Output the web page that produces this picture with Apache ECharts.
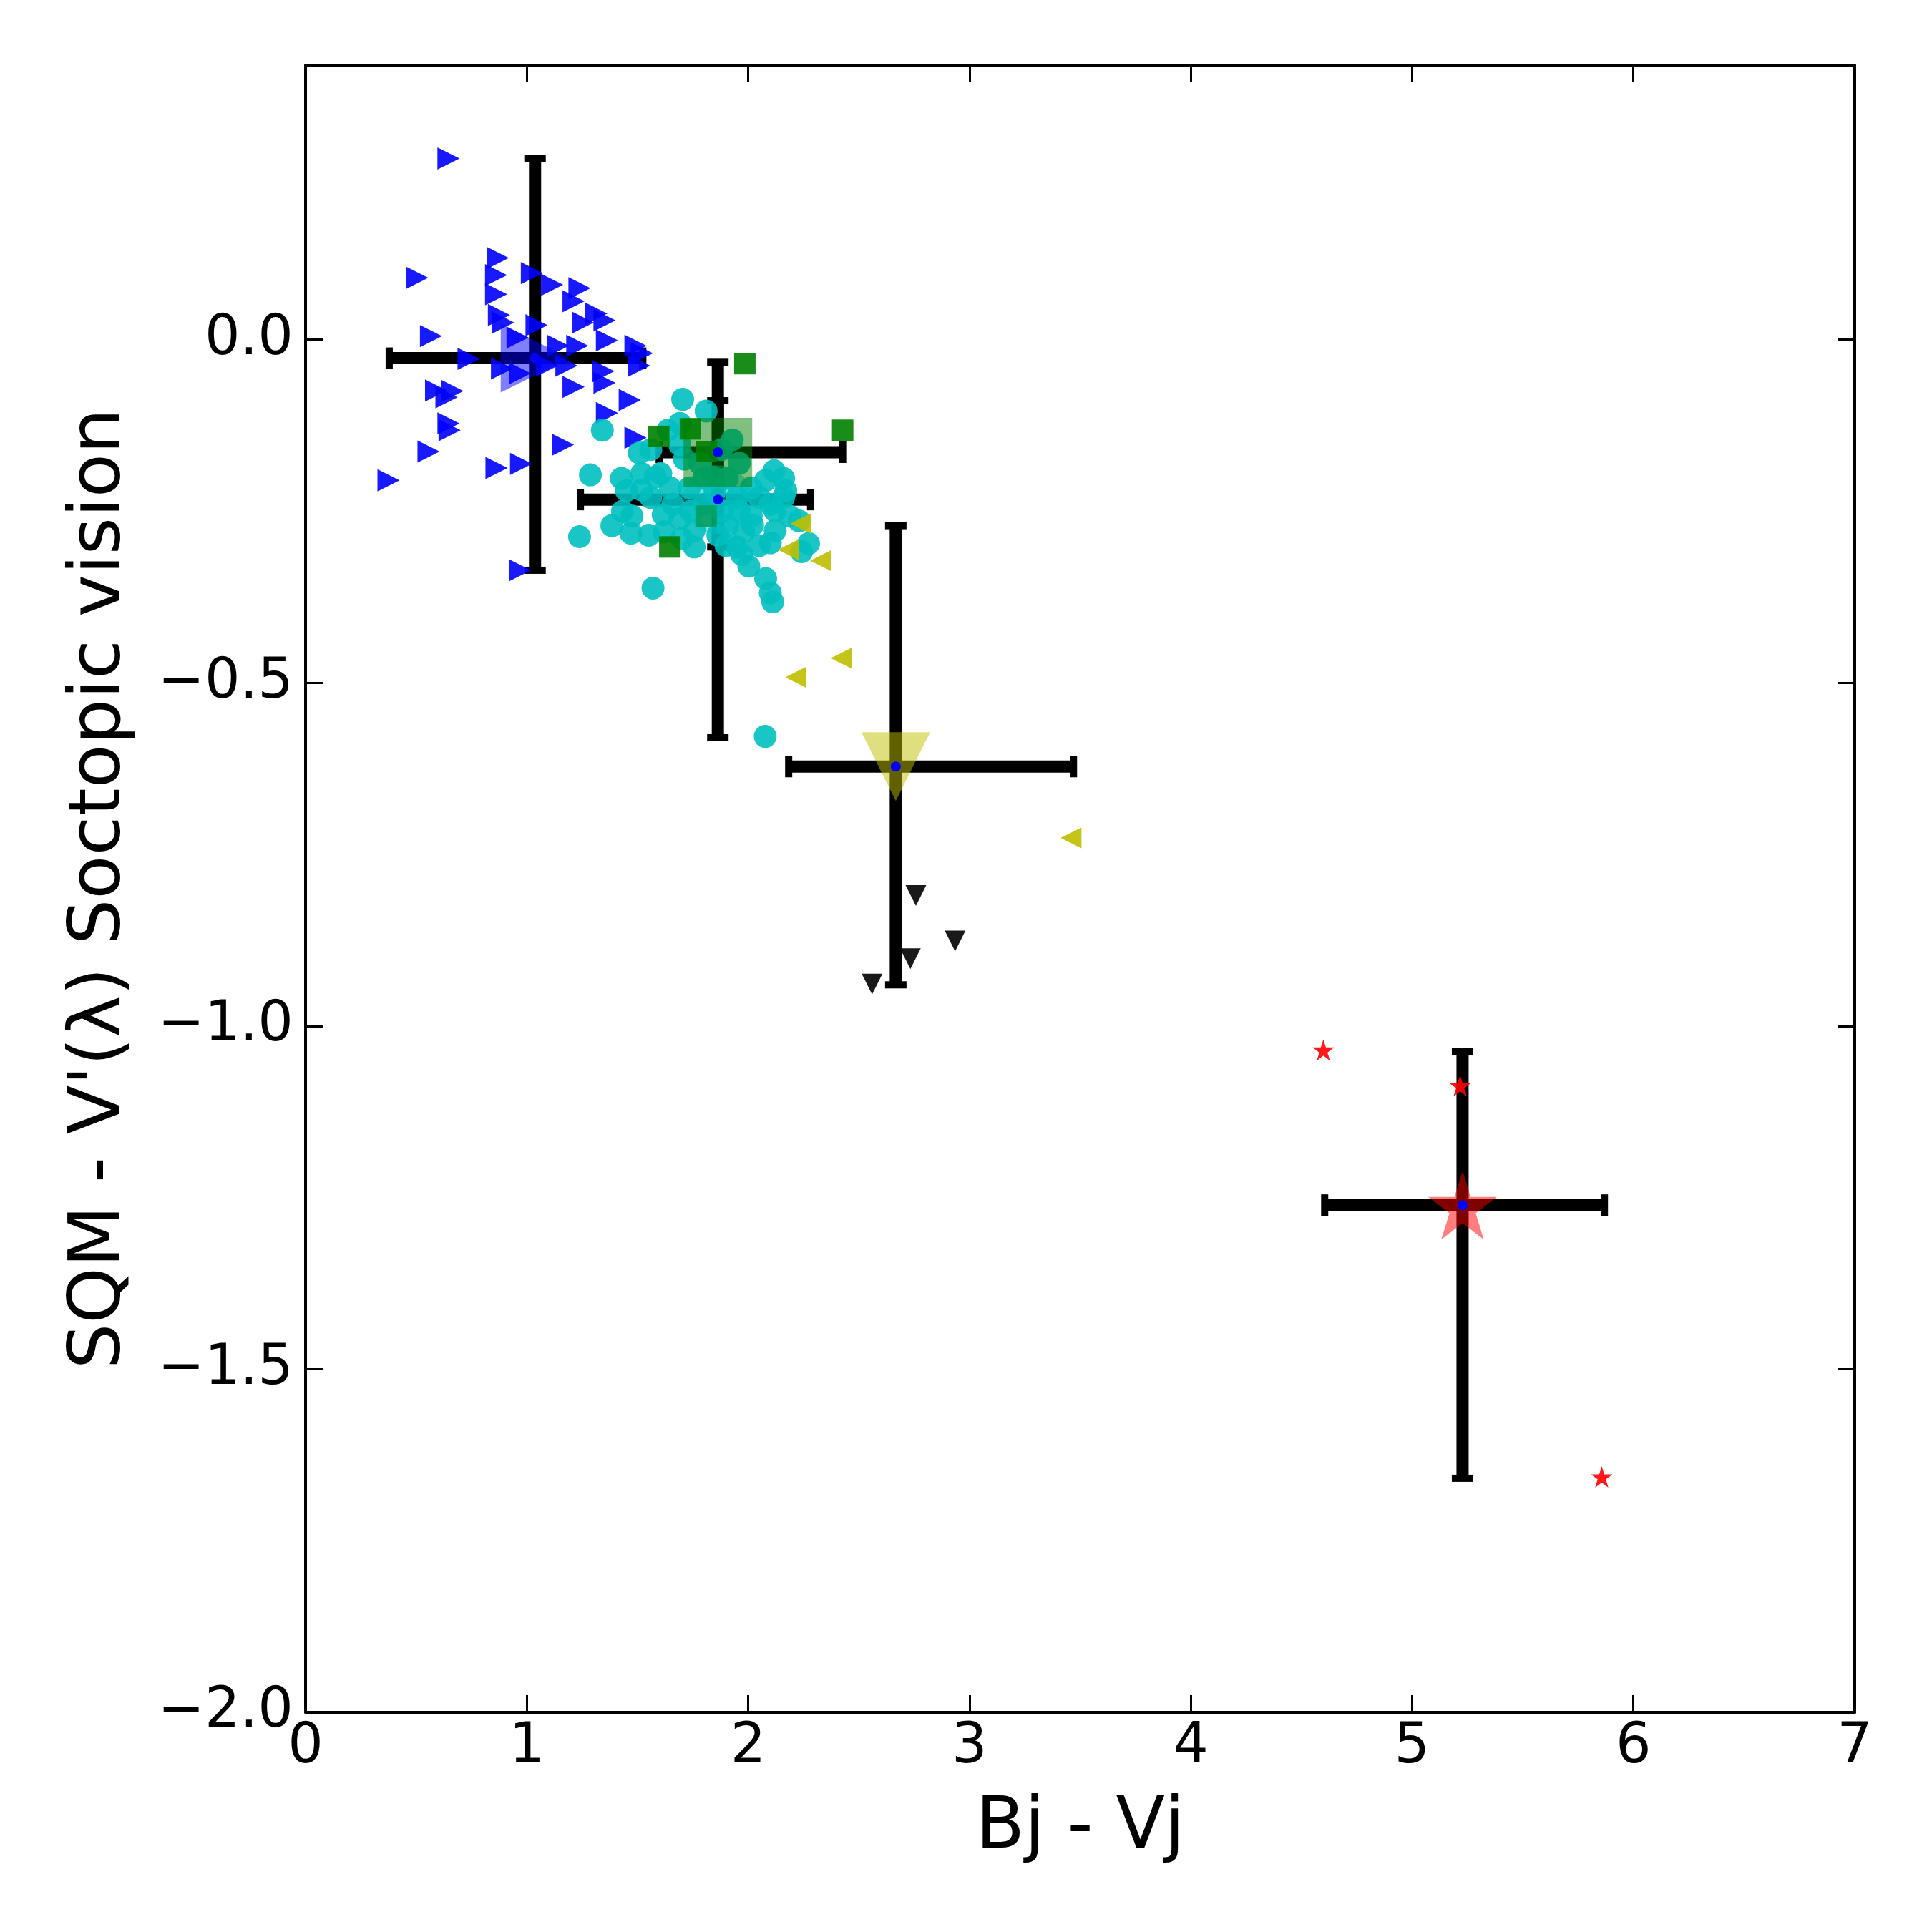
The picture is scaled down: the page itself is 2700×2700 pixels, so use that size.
<!DOCTYPE html>
<html><head><meta charset="utf-8">
<script src="https://cdn.jsdelivr.net/npm/echarts@6/dist/echarts.min.js"></script>
<style>html,body{margin:0;padding:0;background:#fff}#c{width:2700px;height:2700px}</style>
</head><body><div id="c"></div>
<script>
// ---------- data ----------
const xTickValues = [0, 1, 2, 3, 4, 5, 6, 7];
const xTickLabels = ['0', '1', '2', '3', '4', '5', '6', '7'];
const yTickValues = [-2.0, -1.5, -1.0, -0.5, 0.0];
const yTickLabels = ['\u22122.0', '\u22121.5', '\u22121.0', '\u22120.5', '0.0'];
const xLabel = 'Bj - Vj';
const yLabel = "SQM - V'(\u03bb) Soctopic vision";

const bluePts = [
  [0.646, 0.264], [0.505, 0.090], [0.869, 0.119], [0.861, 0.094], [0.861, 0.066],
  [0.874, 0.036], [0.893, 0.025], [1.023, 0.097], [1.114, 0.080], [1.238, 0.075],
  [1.211, 0.056], [1.253, 0.025], [1.314, 0.038], [1.351, 0.028], [1.362, -0.001],
  [1.491, -0.009], [1.508, -0.038], [1.346, -0.046], [1.351, -0.063], [1.211, -0.069],
  [1.179, -0.038], [1.141, -0.009], [1.228, -0.009], [1.044, 0.021], [0.958, 0.003],
  [0.737, -0.028], [0.888, -0.042], [0.969, -0.049], [1.091, -0.038], [0.567, 0.005],
  [0.590, -0.074], [0.664, -0.075], [0.637, -0.084], [0.646, -0.122], [0.651, -0.132],
  [0.556, -0.163], [1.465, -0.088], [1.362, -0.107], [1.491, -0.143], [1.163, -0.153],
  [0.375, -0.205], [0.863, -0.187], [0.974, -0.181], [0.969, -0.336], [1.520, -0.020]
];
const cyanPts = [
  [1.704, -0.087], [1.341, -0.132], [1.810, -0.104], [1.691, -0.122], [1.287, -0.197],
  [1.427, -0.202], [1.238, -0.287], [1.570, -0.362], [1.508, -0.165], [1.519, -0.195],
  [1.605, -0.195], [1.648, -0.216], [1.519, -0.219], [1.616, -0.255], [1.691, -0.261],
  [1.432, -0.250], [1.384, -0.271], [1.470, -0.282], [1.551, -0.285], [1.475, -0.257],
  [1.756, -0.302], [1.756, -0.278], [1.691, -0.153], [1.637, -0.132], [1.928, -0.146],
  [2.117, -0.191], [2.160, -0.202], [2.079, -0.205], [2.014, -0.216], [1.960, -0.250],
  [2.014, -0.257], [2.122, -0.250], [2.187, -0.257], [2.100, -0.296], [2.273, -0.297],
  [2.241, -0.309], [1.950, -0.302], [1.971, -0.313], [2.003, -0.330], [2.079, -0.348],
  [2.100, -0.369], [2.111, -0.382], [1.885, -0.250], [1.906, -0.271], [1.734, -0.216],
  [1.799, -0.202], [1.906, -0.202], [1.712, -0.174], [2.122, -0.278], [2.230, -0.264],
  [1.863, -0.285], [2.077, -0.578], [1.560, -0.160], [2.050, -0.230], [2.160, -0.230],
  [1.980, -0.280], [2.050, -0.300], [1.800, -0.240], [1.660, -0.240], [1.960, -0.180],
  [1.850, -0.220], [1.950, -0.230], [2.020, -0.270], [1.700, -0.290], [1.620, -0.280],
  [1.780, -0.180], [1.880, -0.160], [2.170, -0.220], [1.560, -0.230], [1.450, -0.220],
  [1.900, -0.300], [2.100, -0.240], [1.740, -0.250], [1.840, -0.200], [1.580, -0.200]
];
const greenPts = [
  [1.985, -0.035], [2.427, -0.132], [1.596, -0.141], [1.739, -0.130],
  [1.646, -0.302], [1.812, -0.163], [1.810, -0.257]
];
const yellowPts = [
  [2.237, -0.268], [2.181, -0.306], [2.327, -0.322], [2.420, -0.464], [2.214, -0.492], [3.459, -0.726]
];
const blackPts = [
  [2.758, -0.810], [2.935, -0.876], [2.733, -0.902], [2.560, -0.939]
];
const redPts = [
  [4.599, -1.035], [5.217, -1.087], [5.857, -1.657]
];

// group summaries (mean marker + min/max error bars)
const groupNames = ['blue', 'cyan', 'green', 'yellow', 'red'];
const meanX = [1.037, 1.863, 1.863, 2.667, 5.228];
const meanY = [-0.027, -0.233, -0.164, -0.622, -1.261];
const errXLo = [0.378, 1.242, 1.598, 2.183, 4.605];
const errXHi = [1.524, 2.282, 2.427, 3.470, 5.869];
const errYLo = [-0.336, -0.580, -0.302, -0.940, -1.659];
const errYHi = [0.264, -0.089, -0.033, -0.271, -1.037];

// ---------- styling ----------
function starPath() {
  const pts = [];
  for (let i = 0; i < 10; i++) {
    const r = i % 2 === 0 ? 1 : 0.381966;
    const a = -Math.PI / 2 + i * Math.PI / 5;
    pts.push((r * Math.cos(a)).toFixed(4) + ' ' + (r * Math.sin(a)).toFixed(4));
  }
  return 'path://M' + pts.join(' L') + ' Z';
}
const STAR = starPath();
const FONT = 'DejaVu Sans';
const groupStyle = {
  blue:   { color: '#0000ff', symbol: 'triangle', rotate: -90 },
  cyan:   { color: '#00bfbf', symbol: 'circle', rotate: 0 },
  green:  { color: '#008000', symbol: 'rect', rotate: 0 },
  yellow: { color: '#bfbf00', symbol: 'triangle', rotate: 180 },
  red:    { color: '#ff0000', symbol: STAR, rotate: 0 }
};

function pointSeries(data, color, symbol, rotate, size) {
  return {
    type: 'scatter', xAxisIndex: 0, yAxisIndex: 0,
    data: data, symbol: symbol, symbolRotate: rotate, symbolSize: size,
    itemStyle: { color: color, opacity: 0.9 },
    emphasis: { disabled: true }, silent: true
  };
}

const meanData = groupNames.map((g, i) => ({
  value: [meanX[i], meanY[i]],
  symbol: groupStyle[g].symbol,
  symbolRotate: groupStyle[g].rotate,
  itemStyle: { color: groupStyle[g].color, opacity: 0.5 }
}));
const errData = groupNames.map((g, i) => [meanX[i], meanY[i], errXLo[i], errXHi[i], errYLo[i], errYHi[i]]);

function renderErr(params, api) {
  const cx = api.value(0), cy = api.value(1);
  const xl = api.value(2), xh = api.value(3), yl = api.value(4), yh = api.value(5);
  const c = api.coord([cx, cy]);
  const a = api.coord([xl, cy]), b = api.coord([xh, cy]);
  const d = api.coord([cx, yl]), e = api.coord([cx, yh]);
  const lw = 17, cw = 10, half = 15;
  const bar = { stroke: '#000', lineWidth: lw };
  const cap = { stroke: '#000', lineWidth: cw };
  return {
    type: 'group',
    children: [
      { type: 'line', shape: { x1: a[0], y1: c[1], x2: b[0], y2: c[1] }, style: bar },
      { type: 'line', shape: { x1: c[0], y1: d[1], x2: c[0], y2: e[1] }, style: bar },
      { type: 'line', shape: { x1: a[0], y1: c[1] - half, x2: a[0], y2: c[1] + half }, style: cap },
      { type: 'line', shape: { x1: b[0], y1: c[1] - half, x2: b[0], y2: c[1] + half }, style: cap },
      { type: 'line', shape: { x1: c[0] - half, y1: d[1], x2: c[0] + half, y2: d[1] }, style: cap },
      { type: 'line', shape: { x1: c[0] - half, y1: e[1], x2: c[0] + half, y2: e[1] }, style: cap }
    ]
  };
}

function yFmt(v) {
  for (let i = 0; i < yTickValues.length; i++) {
    if (Math.abs(v - yTickValues[i]) < 1e-6) return yTickLabels[i];
  }
  return '';
}
function xFmt(v) {
  for (let i = 0; i < xTickValues.length; i++) {
    if (Math.abs(v - xTickValues[i]) < 1e-6) return xTickLabels[i];
  }
  return '';
}

const axisLineStyle = { show: true, onZero: false, lineStyle: { color: '#000', width: 4 } };
const tickStyle = { show: true, inside: true, length: 24, lineStyle: { color: '#000', width: 3 } };

const option = {
  animation: false,
  backgroundColor: '#ffffff',
  grid: { left: 427, top: 91, width: 2165, height: 2302, containLabel: false },
  xAxis: [
    {
      type: 'value', position: 'bottom', min: 0, max: 7, interval: 1,
      axisLine: axisLineStyle, axisTick: tickStyle, splitLine: { show: false },
      axisLabel: { formatter: xFmt, fontSize: 78, fontFamily: FONT, color: '#000', margin: 11 },
      name: xLabel, nameLocation: 'middle', nameGap: 113,
      nameTextStyle: { fontSize: 100, fontFamily: FONT, color: '#000' }
    },
    {
      type: 'value', position: 'top', min: 0, max: 7, interval: 1,
      axisLine: axisLineStyle, axisTick: tickStyle, splitLine: { show: false },
      axisLabel: { show: false }
    }
  ],
  yAxis: [
    {
      type: 'value', position: 'left', min: -2.0, max: 0.4, interval: 0.5,
      axisLine: axisLineStyle, axisTick: tickStyle, splitLine: { show: false },
      axisLabel: { formatter: yFmt, fontSize: 78, fontFamily: FONT, color: '#000', margin: 17 },
      name: yLabel, nameLocation: 'middle', nameGap: 236, nameRotate: 90,
      nameTextStyle: { fontSize: 100, fontFamily: FONT, color: '#000' }
    },
    {
      type: 'value', position: 'right', min: -2.0, max: 0.4, interval: 0.5,
      axisLine: axisLineStyle, axisTick: tickStyle, splitLine: { show: false },
      axisLabel: { show: false }
    }
  ],
  series: [
    pointSeries(bluePts, '#0000ff', 'triangle', -90, 31),
    pointSeries(cyanPts, '#00bfbf', 'circle', 0, 32),
    pointSeries(greenPts, '#008000', 'rect', 0, 30),
    pointSeries(yellowPts, '#bfbf00', 'triangle', 90, 29),
    pointSeries(blackPts, '#000000', 'triangle', 180, 29),
    pointSeries(redPts, '#ff0000', STAR, 0, 30),
    {
      type: 'scatter', xAxisIndex: 0, yAxisIndex: 0, data: meanData, symbolSize: 96,
      emphasis: { disabled: true }, silent: true
    },
    {
      type: 'custom', xAxisIndex: 0, yAxisIndex: 0, data: errData,
      encode: { x: [0, 2, 3], y: [1, 4, 5] }, renderItem: renderErr, silent: true
    },
    {
      type: 'scatter', xAxisIndex: 0, yAxisIndex: 0,
      data: groupNames.map((g, i) => [meanX[i], meanY[i]]),
      symbol: 'circle', symbolSize: 14, itemStyle: { color: '#0000ff', opacity: 1 },
      emphasis: { disabled: true }, silent: true
    }
  ]
};
const chart = echarts.init(document.getElementById('c'), null, { renderer: 'canvas' });
chart.setOption(option);
</script>
</body></html>
